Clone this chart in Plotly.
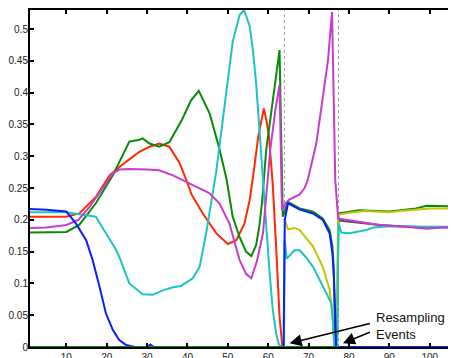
import plotly.graph_objects as go

# ---------------- data ----------------
blue_x = [1, 5, 10, 12.4, 14.9, 16.5, 18.2, 19.8, 21.5, 23.1, 24.8, 27, 30, 30.8, 31.6, 40, 50, 63.8,
          64.1, 64.9, 67.8, 71.1, 73.5, 75.2, 75.9, 76.3, 76.6, 76.8, 80, 90, 100, 107]
blue_y = [0.217, 0.216, 0.213, 0.194, 0.168, 0.137, 0.095, 0.053, 0.027, 0.011, 0.003, 0, 0, 0.004, 0, 0, 0, 0,
          0.2, 0.226, 0.216, 0.21, 0.2, 0.179, 0.147, 0.105, 0.05, 0, 0, 0, 0, 0]

green_x = [1, 5, 10, 13.2, 17.3, 21.5, 25.6, 28.1, 28.9, 30.6, 33, 35.5, 38.6, 40.9, 42.8, 45.5, 47.9, 49.7,
           51.2, 52.9, 54.5, 55.8, 57, 57.8, 58.5, 59.5, 61.1, 62.8, 63.6, 64.9, 67.8, 71.1, 73.5, 75.2, 75.9,
           76.2, 76.6, 77.0, 77.4, 82.6, 90, 96.6, 99.2, 105.8, 107]
green_y = [0.18, 0.18, 0.181, 0.192, 0.226, 0.27, 0.323, 0.326, 0.328, 0.32, 0.315, 0.322, 0.357, 0.388, 0.403,
           0.367, 0.312, 0.263, 0.205, 0.173, 0.15, 0.143, 0.16, 0.19, 0.23, 0.31, 0.388, 0.467, 0.205, 0.228,
           0.218, 0.213, 0.202, 0.184, 0.158, 0.126, 0, 0, 0.21, 0.215, 0.213, 0.218, 0.222, 0.221, 0.221]

red_x = [1, 5, 10, 13.2, 17.3, 20.7, 23.5, 26.4, 28.1, 30.6, 33, 35.5, 38, 39.7, 41, 43.8, 47.1, 50, 52.1,
         54.1, 55.4, 56.5, 57.5, 58.9, 59.6, 60.2, 61.1, 62, 62.8, 63.5, 70, 80, 90, 100, 107]
red_y = [0.205, 0.205, 0.205, 0.21, 0.236, 0.27, 0.285, 0.299, 0.307, 0.315, 0.32, 0.315, 0.29, 0.263, 0.24,
         0.21, 0.179, 0.162, 0.168, 0.194, 0.231, 0.28, 0.33, 0.375, 0.355, 0.33, 0.257, 0.153, 0.048, 0,
         0, 0, 0, 0, 0]

cyan_x = [1, 10, 14, 17.3, 19.8, 22.3, 23.1, 25.6, 28.9, 31.4, 33.9, 36.4, 38.4, 41.3, 43, 44.6, 47.1, 49.6,
          51.2, 52.9, 54, 55.4, 56.2, 57, 57.9, 58.7, 59.5, 60.3, 61.1, 62, 62.6, 63.1, 63.9, 64.05, 64.6,
          65.5, 66.5, 67.8, 69.5, 71.1, 73.5, 75.6, 76.0, 76.4, 77.1, 77.4, 78.1, 80.1, 84.3, 86, 90, 96.7,
          100, 107]
cyan_y = [0.212, 0.212, 0.208, 0.205, 0.179, 0.153, 0.142, 0.1, 0.083, 0.082, 0.089, 0.094, 0.096, 0.108,
          0.126, 0.178, 0.275, 0.405, 0.48, 0.522, 0.53, 0.505, 0.467, 0.415, 0.33, 0.26, 0.18, 0.12, 0.06,
          0.02, 0.005, 0, 0, 0.168, 0.139, 0.145, 0.152, 0.152, 0.14, 0.126, 0.095, 0.069, 0.042, 0, 0, 0.195,
          0.18, 0.179, 0.184, 0.188, 0.19, 0.189, 0.189, 0.189]

magenta_x = [1, 5, 10, 13, 15.7, 18.5, 21.5, 23.1, 25.6, 30, 33, 36.4, 39.7, 42.2, 45.4, 47.9, 50.4, 52.9,
             54.5, 55.8, 57.2, 58.7, 60.5, 61.8, 62.8, 63.4, 64.2, 65.2, 67.8, 69, 69.8, 71.9, 73.5, 74.8,
             75.8, 76.6, 77.3, 82.6, 87.6, 94.2, 99.2, 103, 107]
magenta_y = [0.187, 0.188, 0.192, 0.2, 0.22, 0.245, 0.273, 0.279, 0.28, 0.279, 0.278, 0.27, 0.26, 0.252,
             0.242, 0.226, 0.194, 0.137, 0.115, 0.108, 0.135, 0.179, 0.31, 0.375, 0.412, 0.215, 0.225, 0.232,
             0.24, 0.25, 0.263, 0.32, 0.388, 0.451, 0.527, 0.263, 0.202, 0.197, 0.192, 0.189, 0.186, 0.188,
             0.189]

yellow_x = [64.0, 64.9, 66.5, 67.8, 71.1, 73.5, 75.2, 75.9, 76.3, 76.9, 77.3, 80, 84, 90, 92.6, 96.6, 100, 107]
yellow_y = [0.202, 0.185, 0.187, 0.184, 0.158, 0.126, 0.09, 0.053, 0, 0, 0.208, 0.211, 0.214, 0.212, 0.214,
            0.216, 0.218, 0.218]

gray_x = [77.4, 80, 82.6, 87.6, 92.6, 100, 107]
gray_y = [0.199, 0.197, 0.195, 0.192, 0.19, 0.188, 0.188]

zero_x = [1, 77.4]
zero_y = [0, 0]

resample_x = [64, 77.4]

x_ticks = [10, 20, 30, 40, 50, 60, 70, 80, 90, 100]
y_ticks = [0, 0.05, 0.1, 0.15, 0.2, 0.25, 0.3, 0.35, 0.4, 0.45, 0.5]
y_ticktext = ["0", "0.05", "0.1", "0.15", "0.2", "0.25", "0.3", "0.35", "0.4", "0.45", "0.5"]

# ---------------- figure ----------------
C_BLUE = "#0a1eff"
C_GREEN = "#0a8a0a"
C_RED = "#ff2a00"
C_CYAN = "#1ec4c4"
C_MAGENTA = "#c83ccc"
C_YELLOW = "#c4c400"
C_GRAY = "#505050"

fig = go.Figure()


def add(x, y, color):
    fig.add_trace(go.Scatter(x=x, y=y, mode="lines", line=dict(color=color, width=2),
                             hoverinfo="skip", showlegend=False))


add(red_x, red_y, C_RED)
add(gray_x, gray_y, C_GRAY)
add(green_x, green_y, C_GREEN)
add(yellow_x, yellow_y, C_YELLOW)
add(cyan_x, cyan_y, C_CYAN)
add(magenta_x, magenta_y, C_MAGENTA)
add(blue_x, blue_y, C_BLUE)
add(zero_x, zero_y, C_GREEN)

for ev in resample_x:
    fig.add_shape(type="line", x0=ev, x1=ev, y0=0, y1=1, xref="x", yref="paper",
                  line=dict(color="#999999", width=1, dash="dot"), layer="below")

font = dict(family="Liberation Sans, Arial, Helvetica, sans-serif", size=10, color="#222222")

fig.add_annotation(x=86.1, y=0.062, xref="x", yref="y", text="Resampling<br>Events",
                   showarrow=False, xanchor="left", yanchor="top", align="left",
                   font=dict(family="Liberation Sans, Arial, Helvetica, sans-serif", size=13, color="#111111"))
fig.add_annotation(x=65.3, y=0.006, xref="x", yref="y", text="", showarrow=True,
                   ax=81.7, ay=-20, arrowhead=2, arrowsize=1.6, arrowwidth=1.5, arrowcolor="black", standoff=0)
fig.add_annotation(x=78.5, y=0.006, xref="x", yref="y", text="", showarrow=True,
                   ax=28.4, ay=-11.6, arrowhead=2, arrowsize=1.6, arrowwidth=1.5, arrowcolor="black", standoff=0)

# the page body has an 8px margin, so the figure is offset by (8, 8) inside the window
fig.update_layout(
    width=448, height=350,
    margin=dict(l=22, r=0, t=2, b=11, autoexpand=False),
    paper_bgcolor="white", plot_bgcolor="white",
    font=font,
    showlegend=False,
)
fig.update_xaxes(range=[1, 106.5], tickvals=x_ticks, ticks="inside", ticklen=4, tickwidth=1.5,
                 tickcolor="black", showline=True, linecolor="black", linewidth=2, mirror="ticks",
                 showgrid=False, zeroline=False, tickfont=font, automargin=False)
fig.update_yaxes(range=[0, 0.53], tickvals=y_ticks, ticktext=y_ticktext, ticks="inside", ticklen=4,
                 tickwidth=1.5, tickcolor="black", showline=True, linecolor="black", linewidth=2,
                 mirror="ticks", showgrid=False, zeroline=False, tickfont=font, automargin=False,
                 ticklabelstandoff=-2)

fig.write_html("out.html")
